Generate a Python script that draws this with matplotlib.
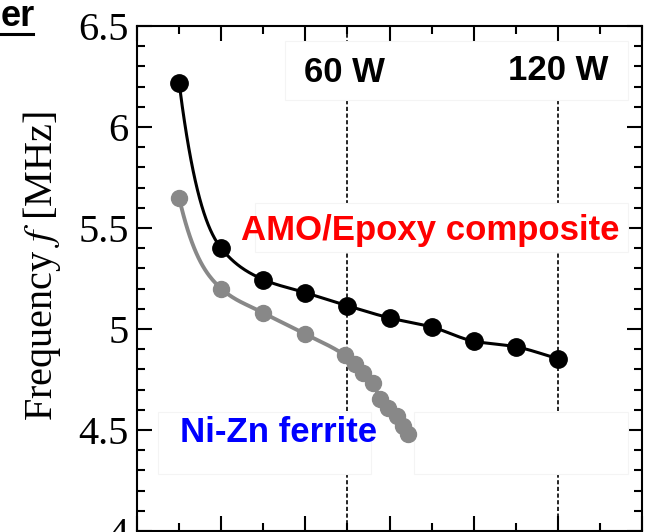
"""
Frequency vs. drive level for the AMO/Epoxy composite and Ni-Zn ferrite cores.
Recreated from a cropped figure (x tick labels fall outside the crop).
"""

import numpy as np
import matplotlib
matplotlib.use("Agg")
import matplotlib.pyplot as plt
import matplotlib.ticker as mticker
from matplotlib.patches import Rectangle
from matplotlib.lines import Line2D

# ── DATA ─────────────────────────────────────────────────────────────────────
amo_x = [1, 2, 3, 4, 5, 6, 7, 8, 9, 10]
amo_f = [6.22, 5.40, 5.245, 5.18, 5.115, 5.055, 5.01, 4.94, 4.912, 4.853]

nizn_x = [1, 2, 3, 4, 4.94, 5.18, 5.37, 5.61, 5.77, 5.96, 6.18, 6.32, 6.44]
nizn_f = [5.65, 5.20, 5.08, 4.975, 4.87, 4.827, 4.782, 4.733, 4.654,
          4.609, 4.569, 4.52, 4.48]

marker_lines = [5, 10]            # 60 W and 120 W
marker_labels = ["60 W", "120 W"]

y_ticks = [4, 4.5, 5, 5.5, 6, 6.5]
y_ticklabels = ["4", "4.5", "5", "5.5", "6", "6.5"]


def smooth(x, y, n=40):
    """Monotone cubic through the points (steeper start, like the original)."""
    x = np.asarray(x, float)
    y = np.asarray(y, float)
    h = np.diff(x)
    d = np.diff(y) / h
    m = np.zeros_like(x)
    for i in range(1, len(x) - 1):
        if d[i - 1] * d[i] > 0:
            w1 = 2 * h[i] + h[i - 1]
            w2 = h[i] + 2 * h[i - 1]
            m[i] = (w1 + w2) / (w1 / d[i - 1] + w2 / d[i])
    m[0] = 2 * d[0]
    m[-1] = d[-1]
    xs, ys = [], []
    t = np.linspace(0, 1, n)
    for i in range(len(h)):
        h00 = 2 * t**3 - 3 * t**2 + 1
        h10 = t**3 - 2 * t**2 + t
        h01 = -2 * t**3 + 3 * t**2
        h11 = t**3 - t**2
        xs.append(x[i] + t * h[i])
        ys.append(h00 * y[i] + h10 * h[i] * m[i] + h01 * y[i + 1] + h11 * h[i] * m[i + 1])
    return np.concatenate(xs), np.concatenate(ys)


# ── FIGURE ───────────────────────────────────────────────────────────────────
plt.rcParams["mathtext.fontset"] = "stix"

fig = plt.figure(figsize=(6.46, 5.32), dpi=100)
ax = fig.add_axes([137 / 646, 1 / 532, 505 / 646, 505 / 532])

ax.set_xlim(0, 12)
ax.set_ylim(4, 6.5)

# dashed power markers (behind the text boxes)
for xv in marker_lines:
    ax.axvline(xv, color="black", lw=1.2, ls=(0, (2.5, 1.5)), zorder=1)

# white text boxes with very faint edges
box_kw = dict(facecolor="white", edgecolor="#f4f4f4", lw=0.8, zorder=2)
ax.add_patch(Rectangle((3.52, 6.134), 8.14, 0.29, **box_kw))
ax.add_patch(Rectangle((2.80, 5.381), 8.86, 0.243, **box_kw))
ax.add_patch(Rectangle((0.50, 4.282), 5.06, 0.307, **box_kw))
ax.add_patch(Rectangle((6.58, 4.282), 5.08, 0.307, **box_kw))

# curves
gx, gy = smooth(nizn_x, nizn_f)
ax.plot(gx, gy, color="#888888", lw=2.8, zorder=3)
ax.plot(nizn_x, nizn_f, "o", color="#888888", ms=11.5, zorder=3)

bx, by = smooth(amo_x, amo_f)
ax.plot(bx, by, color="black", lw=2.2, zorder=4)
ax.plot(amo_x, amo_f, "o", color="black", ms=12.5, zorder=4)

# labels
lab = dict(fontfamily="Liberation Sans", fontsize=25, fontweight="bold",
           ha="center", va="center", zorder=5)
ax.text(4.92, 6.27, marker_labels[0], color="black", **lab)
ax.text(10.02, 6.28, marker_labels[1], color="black", **lab)
ax.text(6.96, 5.49, "AMO/Epoxy composite", color="#ff0000", **lab)
ax.text(3.37, 4.49, "Ni-Zn ferrite", color="#0000ff", **lab)

# axes styling
for s in ax.spines.values():
    s.set_linewidth(1.5)
ax.xaxis.set_major_locator(mticker.MultipleLocator(2))
ax.xaxis.set_minor_locator(mticker.MultipleLocator(1))
ax.yaxis.set_minor_locator(mticker.MultipleLocator(0.1))
ax.set_yticks(y_ticks)
ax.set_yticklabels(y_ticklabels, fontfamily="Liberation Serif", fontsize=29)
ax.tick_params(which="both", direction="in", top=True, right=True, width=1.5,
               labelbottom=False, pad=6)
ax.tick_params(which="major", length=11)
ax.tick_params(which="minor", length=6)

ax.set_ylabel("Frequency $f$ [MHz]", fontfamily="Liberation Serif", fontsize=29)
ax.yaxis.set_label_coords(-0.147, 0.525)

# cropped heading fragment at the top-left
fig.text(1 / 646, 1 - 26 / 532, "er", fontfamily="Liberation Sans", fontsize=26,
         fontweight="bold", ha="left", va="baseline")
fig.add_artist(Line2D([0, 33 / 646], [1 - 33.5 / 532] * 2, color="black", lw=2.2))

plt.savefig("out.png", dpi=100)
